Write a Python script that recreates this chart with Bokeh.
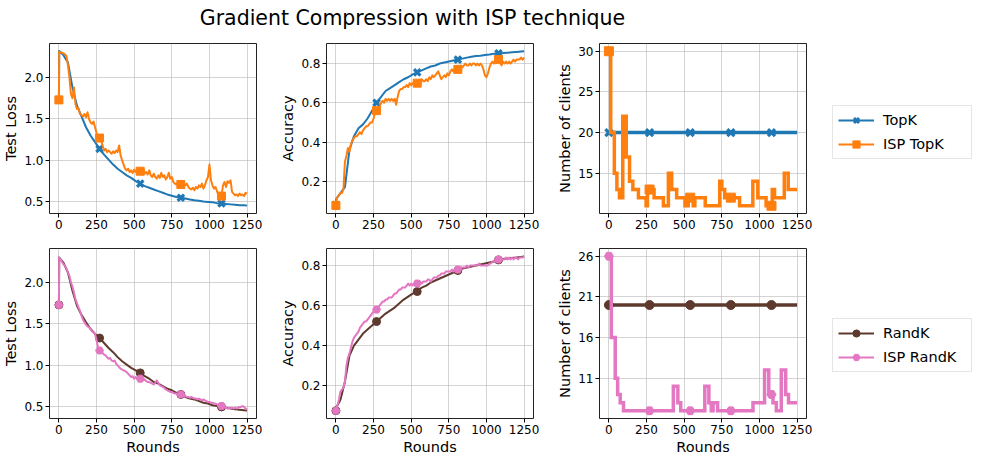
from bokeh.plotting import figure
from bokeh.models import Range1d, FixedTicker, PrintfTickFormatter, Legend, LegendItem, Label
from bokeh.layouts import column, row
from bokeh.embed import file_html
from bokeh.resources import INLINE
from bokeh.core.validation import silence
from bokeh.core.validation.warnings import MISSING_RENDERERS

silence(MISSING_RENDERERS, True)

# ---------------- data ----------------
last_round = 1250
marker_rounds = [0, 270, 540, 810, 1080]
x_ticks = [0, 250, 500, 750, 1000, 1250]

rounds_fine = [0, 2] + list(range(10, last_round + 1, 10))
rounds_coarse = [0, 2] + list(range(30, 1231, 30)) + [last_round]

# TopK experiment
topk_loss = [1.73, 2.32, 2.27, 2.18, 1.88, 1.66, 1.53, 1.40, 1.30, 1.22, 1.14, 1.07, 1.01, 0.95,
             0.90, 0.86, 0.82, 0.79, 0.75, 0.72, 0.69, 0.67, 0.65, 0.63, 0.61, 0.59, 0.575, 0.56,
             0.55, 0.54, 0.53, 0.52, 0.515, 0.505, 0.50, 0.495, 0.485, 0.48, 0.475, 0.47, 0.465,
             0.46, 0.46, 0.455]
isp_topk_loss = [1.73, 2.31,
                 2.30, 2.30, 2.29, 2.28, 2.26, 2.15, 2.00, 1.80, 1.75, 1.88,
                 1.68, 1.62, 1.63, 1.56, 1.55, 1.53, 1.56, 1.52, 1.58, 1.50,
                 1.46, 1.44, 1.47, 1.40, 1.33, 1.28, 1.27, 1.24, 1.18, 1.12,
                 1.14, 1.10, 1.12, 1.10, 1.08, 1.11, 1.09, 1.12, 1.10, 1.18,
                 1.06, 1.00, 0.95, 0.90, 0.88, 0.90, 0.86, 0.88, 0.85, 0.89,
                 0.86, 0.88, 0.86, 0.87, 0.85, 0.90, 0.84, 0.86, 0.83, 0.88,
                 0.82, 0.80, 0.84, 0.80, 0.78, 0.82, 0.79, 0.85, 0.80, 0.82,
                 0.77, 0.80, 0.85, 0.78, 0.80, 0.74, 0.72, 0.71, 0.73, 0.70,
                 0.71, 0.70, 0.72, 0.70, 0.72, 0.68, 0.66, 0.65, 0.67, 0.64,
                 0.68, 0.66, 0.70, 0.68, 0.72, 0.66, 0.70, 0.76, 0.80, 0.95,
                 0.76, 0.70, 0.66, 0.68, 0.63, 0.58, 0.55, 0.57, 0.70, 0.74,
                 0.68, 0.75, 0.73, 0.76, 0.62, 0.60, 0.58, 0.59, 0.57, 0.60,
                 0.58, 0.59, 0.57, 0.61, 0.60]
topk_acc = [0.08, 0.11, 0.14, 0.17, 0.36, 0.43, 0.47, 0.49, 0.52, 0.56, 0.60, 0.63, 0.66, 0.675,
            0.69, 0.705, 0.72, 0.73, 0.745, 0.755, 0.765, 0.775, 0.785, 0.79, 0.80, 0.805, 0.81,
            0.815, 0.82, 0.825, 0.83, 0.835, 0.838, 0.84, 0.843, 0.846, 0.85, 0.852, 0.853, 0.855,
            0.857, 0.859, 0.861, 0.862]
isp_topk_acc = [0.077, 0.10,
                0.12, 0.13, 0.14, 0.14, 0.16, 0.30, 0.33, 0.37, 0.35, 0.39,
                0.41, 0.42, 0.43, 0.43, 0.44, 0.45, 0.44, 0.46, 0.47, 0.48,
                0.48, 0.49, 0.50, 0.50, 0.52, 0.55, 0.56, 0.57, 0.58, 0.60,
                0.61, 0.60, 0.62, 0.61, 0.62, 0.61, 0.62, 0.61, 0.62, 0.59,
                0.63, 0.66, 0.67, 0.67, 0.68, 0.68, 0.69, 0.68, 0.70, 0.69,
                0.70, 0.69, 0.71, 0.70, 0.71, 0.70, 0.72, 0.71, 0.71, 0.72,
                0.71, 0.73, 0.72, 0.74, 0.73, 0.74, 0.75, 0.76, 0.74, 0.72,
                0.73, 0.74, 0.73, 0.75, 0.74, 0.76, 0.77, 0.76, 0.77, 0.78,
                0.77, 0.78, 0.79, 0.78, 0.79, 0.80, 0.79, 0.79, 0.80, 0.79,
                0.80, 0.80, 0.79, 0.80, 0.79, 0.80, 0.79, 0.77, 0.74, 0.73,
                0.75, 0.78, 0.80, 0.81, 0.80, 0.82, 0.83, 0.82, 0.81, 0.79,
                0.81, 0.80, 0.81, 0.80, 0.81, 0.80, 0.81, 0.82, 0.81, 0.82,
                0.82, 0.82, 0.83, 0.82, 0.83]
topk_clients_rounds = [0, last_round]
topk_clients = [20, 20]
isp_topk_clients_rounds = [0, 12, 36, 53, 70, 92, 115, 137, 159, 196, 247, 256, 300, 362, 395, 417,
                           450, 505, 527, 560, 571, 640, 736, 750, 769, 868, 956, 989, 1044, 1085,
                           1100, 1165, 1191]
isp_topk_clients = [30, 20, 15, 13, 12, 22, 17, 14, 13, 12, 11, 13, 12, 11, 15, 13,
                    12, 11, 12, 11, 12, 11, 14, 13, 12, 11, 14, 12, 11, 13,
                    12, 15, 13]

# RandK experiment
randk_loss = [1.73, 2.30, 2.24, 2.12, 1.90, 1.72, 1.61, 1.52, 1.44, 1.38, 1.33, 1.27, 1.21, 1.16,
              1.10, 1.05, 1.01, 0.97, 0.94, 0.91, 0.87, 0.84, 0.80, 0.78, 0.75, 0.72, 0.70, 0.67,
              0.65, 0.62, 0.60, 0.59, 0.57, 0.55, 0.54, 0.52, 0.51, 0.50, 0.49, 0.48, 0.47, 0.465,
              0.46, 0.455]
isp_randk_loss = [1.73, 2.30,
                  2.28, 2.25, 2.22, 2.20, 2.17, 2.12, 2.08, 2.00, 1.95, 1.88,
                  1.80, 1.75, 1.70, 1.66, 1.60, 1.55, 1.52, 1.49, 1.47, 1.46,
                  1.44, 1.41, 1.40, 1.38, 1.30, 1.22, 1.18, 1.17, 1.15, 1.13,
                  1.12, 1.10, 1.08, 1.09, 1.06, 1.05, 1.06, 1.02, 1.00, 0.98,
                  0.96, 0.95, 0.94, 0.93, 0.92, 0.90, 0.88, 0.86, 0.87, 0.84,
                  0.86, 0.84, 0.85, 0.84, 0.83, 0.82, 0.83, 0.81, 0.80, 0.80,
                  0.79, 0.78, 0.77, 0.79, 0.82, 0.79, 0.76, 0.75, 0.74, 0.73,
                  0.71, 0.70, 0.69, 0.68, 0.68, 0.67, 0.66, 0.66, 0.65, 0.65,
                  0.65, 0.64, 0.63, 0.63, 0.62, 0.62, 0.61, 0.62, 0.61, 0.60,
                  0.60, 0.59, 0.60, 0.59, 0.58, 0.59, 0.58, 0.57, 0.56, 0.56,
                  0.55, 0.55, 0.54, 0.54, 0.53, 0.52, 0.52, 0.51, 0.50, 0.49,
                  0.49, 0.48, 0.49, 0.48, 0.49, 0.48, 0.49, 0.48, 0.49, 0.50,
                  0.50, 0.51, 0.50, 0.48, 0.47]
randk_acc = [0.075, 0.09, 0.13, 0.22, 0.35, 0.40, 0.43, 0.46, 0.48, 0.50, 0.52, 0.54, 0.56, 0.575,
             0.59, 0.61, 0.63, 0.645, 0.66, 0.67, 0.69, 0.70, 0.715, 0.725, 0.735, 0.745, 0.755,
             0.765, 0.775, 0.785, 0.79, 0.795, 0.80, 0.805, 0.81, 0.815, 0.82, 0.828, 0.832, 0.835,
             0.838, 0.84, 0.843, 0.845]
isp_randk_acc = [0.075, 0.09,
                 0.10, 0.13, 0.17, 0.18, 0.19, 0.22, 0.30, 0.34, 0.36, 0.39,
                 0.42, 0.44, 0.45, 0.46, 0.47, 0.49, 0.50, 0.51, 0.52, 0.52,
                 0.53, 0.54, 0.55, 0.56, 0.57, 0.58, 0.58, 0.59, 0.60, 0.61,
                 0.62, 0.62, 0.63, 0.63, 0.64, 0.64, 0.64, 0.65, 0.66, 0.66,
                 0.67, 0.68, 0.68, 0.69, 0.69, 0.69, 0.70, 0.71, 0.70, 0.71,
                 0.70, 0.71, 0.71, 0.71, 0.71, 0.72, 0.71, 0.72, 0.72, 0.72,
                 0.73, 0.73, 0.72, 0.73, 0.74, 0.74, 0.74, 0.75, 0.75, 0.76,
                 0.76, 0.76, 0.77, 0.77, 0.77, 0.77, 0.78, 0.77, 0.78, 0.78,
                 0.78, 0.78, 0.79, 0.79, 0.79, 0.79, 0.80, 0.79, 0.80, 0.80,
                 0.80, 0.80, 0.80, 0.80, 0.81, 0.80, 0.80, 0.80, 0.80, 0.80,
                 0.80, 0.81, 0.81, 0.82, 0.82, 0.82, 0.83, 0.83, 0.82, 0.83,
                 0.83, 0.83, 0.84, 0.83, 0.84, 0.83, 0.84, 0.83, 0.84, 0.84,
                 0.83, 0.84, 0.84, 0.84, 0.845]
randk_clients_rounds = [0, last_round]
randk_clients = [20, 20]
isp_randk_clients_rounds = [0, 16, 42, 58, 75, 97, 428, 458, 477, 637, 664, 680, 692, 722, 957,
                            1034, 1062, 1090, 1112, 1145, 1174, 1193]
isp_randk_clients = [26, 16, 11, 9, 8, 7, 10, 8, 7, 10, 8, 7, 8, 7, 8,
                     12, 9, 8, 7, 12, 9, 8]

for s in (isp_topk_loss, isp_topk_acc, isp_randk_loss, isp_randk_acc):
    assert len(s) == len(rounds_fine), len(s)
for s in (topk_loss, topk_acc, randk_loss, randk_acc):
    assert len(s) == len(rounds_coarse), len(s)

# ---------------- style ----------------
FONT = "DejaVu Sans"
C_BLUE, C_ORANGE, C_BROWN, C_PINK = "#1f77b4", "#ff7f0e", "#5e3a2e", "#e377c2"
FRAME_W, FRAME_H = 207, 170
TOP_B = 5
BOT_B1, BOT_B2 = 30, 37
LEG_W = 147


def at_rounds(xs, ys):
    d = dict(zip(xs, ys))
    return [d[m] for m in marker_rounds]


def step_at(xs, ys):
    out = []
    for m in marker_rounds:
        i = max(j for j, x in enumerate(xs) if x <= m)
        out.append(ys[i])
    return out


def make_fig(yr, ylabel, yticks, yfmt, mb, xlabel=None):
    p = figure(frame_width=FRAME_W, frame_height=FRAME_H,
               x_range=Range1d(-62.5, 1312.5), y_range=Range1d(*yr),
               toolbar_location=None, output_backend="svg",
               min_border_left=mb[0], min_border_right=mb[1], min_border_top=mb[2],
               min_border_bottom=mb[3])
    p.xaxis.ticker = FixedTicker(ticks=x_ticks)
    p.yaxis.ticker = FixedTicker(ticks=yticks)
    p.yaxis.formatter = PrintfTickFormatter(format=yfmt)
    p.yaxis.axis_label = ylabel
    if xlabel:
        p.xaxis.axis_label = xlabel
    for ax in p.axis:
        ax.major_label_text_font = FONT
        ax.major_label_text_font_size = "12px"
        ax.major_label_text_color = "black"
        ax.axis_label_text_font = FONT
        ax.axis_label_text_font_size = "14.5px"
        ax.axis_label_text_font_style = "normal"
        ax.axis_label_text_color = "black"
        ax.axis_line_color = None
        ax.major_tick_line_color = "black"
        ax.major_tick_out = 4
        ax.major_tick_in = 0
        ax.minor_tick_line_color = None
        ax.major_label_standoff = 2
        ax.axis_label_standoff = 2
    p.grid.grid_line_color = "#b0b0b0"
    p.grid.grid_line_alpha = 0.55
    p.grid.grid_line_width = 1
    p.outline_line_color = "#222222"
    p.outline_line_width = 1
    p.outline_line_alpha = 1
    p.background_fill_color = "white"
    p.border_fill_color = "white"
    return p


def add_series(p, xs, ys, color, marker, lw, ms, step=False):
    if step:
        xx = xs + [last_round] if xs[-1] != last_round else xs
        yy = ys + [ys[-1]] if xs[-1] != last_round else ys
        p.step(xx, yy, mode="after", line_color=color, line_width=lw, line_join="miter")
        my = step_at(xs, ys)
    else:
        p.line(xs, ys, line_color=color, line_width=lw, line_join="round")
        my = at_rounds(xs, ys)
    if marker == "x":
        p.scatter(marker_rounds, my, marker="x", size=ms, line_color=color, line_width=3.2)
    else:
        p.scatter(marker_rounds, my, marker=marker, size=ms, fill_color=color, line_color=color)
    return my


def legend_fig(height, entries, loc):
    # legend-only panel; its proxy glyphs reuse the series' marker values, which lie
    # outside this panel's 0..1 ranges and so stay hidden
    p = figure(width=LEG_W, height=height, x_range=Range1d(0, 1), y_range=Range1d(0, 1),
               x_axis_location=None, y_axis_location=None, toolbar_location=None,
               output_backend="svg", min_border=0)
    p.grid.visible = False
    p.outline_line_color = None
    items = []
    for label, color, marker, ys in entries:
        lr = p.line(marker_rounds, ys, line_color=color, line_width=2)
        if marker == "x":
            sr = p.scatter(marker_rounds, ys, marker="x", size=9, line_color=color, line_width=3)
        else:
            sr = p.scatter(marker_rounds, ys, marker=marker, size=8, fill_color=color,
                           line_color=color)
        items.append(LegendItem(label=label, renderers=[lr, sr]))
    lg = Legend(items=items, location=loc, margin=0)
    lg.label_text_font = FONT
    lg.label_text_font_size = "14.5px"
    lg.label_text_color = "black"
    lg.label_width = 83
    lg.glyph_width = 36
    lg.glyph_height = 18
    lg.label_standoff = 9
    lg.spacing = 6
    lg.padding = 5
    lg.border_line_color = "#cccccc"
    lg.border_line_width = 1
    lg.background_fill_color = "white"
    lg.background_fill_alpha = 1
    p.add_layout(lg)
    return p


MB1 = [(46, 21, TOP_B, BOT_B1), (46, 20, TOP_B, BOT_B1), (46, 20, TOP_B, BOT_B1)]
MB2 = [(46, 21, TOP_B, BOT_B2), (46, 20, TOP_B, BOT_B2), (46, 20, TOP_B, BOT_B2)]

# ---- top row ----
f1 = make_fig((0.36, 2.41), "Test Loss", [0.5, 1.0, 1.5, 2.0], "%.1f", MB1[0])
add_series(f1, rounds_coarse, topk_loss, C_BLUE, "x", 2, 9)
add_series(f1, rounds_fine, isp_topk_loss, C_ORANGE, "square", 2, 8)

f2 = make_fig((0.036, 0.902), "Accuracy", [0.2, 0.4, 0.6, 0.8], "%.1f", MB1[1])
add_series(f2, rounds_coarse, topk_acc, C_BLUE, "x", 2, 9)
add_series(f2, rounds_fine, isp_topk_acc, C_ORANGE, "square", 2, 8)

f3 = make_fig((10.05, 30.95), "Number of clients", [15, 20, 25, 30], "%d", MB1[2])
m_topk = add_series(f3, topk_clients_rounds, topk_clients, C_BLUE, "x", 3.5, 10, step=True)
m_isp_topk = add_series(f3, isp_topk_clients_rounds, isp_topk_clients, C_ORANGE, "square", 3.5, 9,
                        step=True)

lg1 = legend_fig(TOP_B + FRAME_H + BOT_B1,
                 [("TopK", C_BLUE, "x", m_topk), ("ISP TopK", C_ORANGE, "square", m_isp_topk)],
                 (6, 54))

# ---- bottom row ----
f4 = make_fig((0.36, 2.41), "Test Loss", [0.5, 1.0, 1.5, 2.0], "%.1f", MB2[0], "Rounds")
add_series(f4, rounds_coarse, randk_loss, C_BROWN, "circle", 2, 8)
add_series(f4, rounds_fine, isp_randk_loss, C_PINK, "hex", 2, 8)

f5 = make_fig((0.036, 0.885), "Accuracy", [0.2, 0.4, 0.6, 0.8], "%.1f", MB2[1], "Rounds")
add_series(f5, rounds_coarse, randk_acc, C_BROWN, "circle", 2, 8)
add_series(f5, rounds_fine, isp_randk_acc, C_PINK, "hex", 2, 8)

f6 = make_fig((6.05, 26.95), "Number of clients", [11, 16, 21, 26], "%d", MB2[2], "Rounds")
m_randk = add_series(f6, randk_clients_rounds, randk_clients, C_BROWN, "circle", 3.5, 9, step=True)
m_isp_randk = add_series(f6, isp_randk_clients_rounds, isp_randk_clients, C_PINK, "hex", 3.5, 9,
                         step=True)

lg2 = legend_fig(TOP_B + FRAME_H + BOT_B2,
                 [("RandK", C_BROWN, "circle", m_randk), ("ISP RandK", C_PINK, "hex", m_isp_randk)],
                 (6, 44))

# ---- title ----
total_w = (46 + FRAME_W + 21) + (46 + FRAME_W + 20) + (46 + FRAME_W + 20) + LEG_W
tfig = figure(width=total_w, height=38, x_range=Range1d(0, 1), y_range=Range1d(0, 1),
              x_axis_location=None, y_axis_location=None, toolbar_location=None,
              output_backend="svg", min_border=0)
tfig.grid.visible = False
tfig.outline_line_color = None
tfig.add_layout(Label(x=412, y=21, x_units="screen", y_units="screen",
                      text="Gradient Compression with ISP technique", text_font=FONT,
                      text_font_size="20.5px", text_align="center", text_baseline="alphabetic",
                      text_color="black"))

p = column(tfig, row(f1, f2, f3, lg1), row(f4, f5, f6, lg2))
open("out.html", "w").write(file_html(p, INLINE))
